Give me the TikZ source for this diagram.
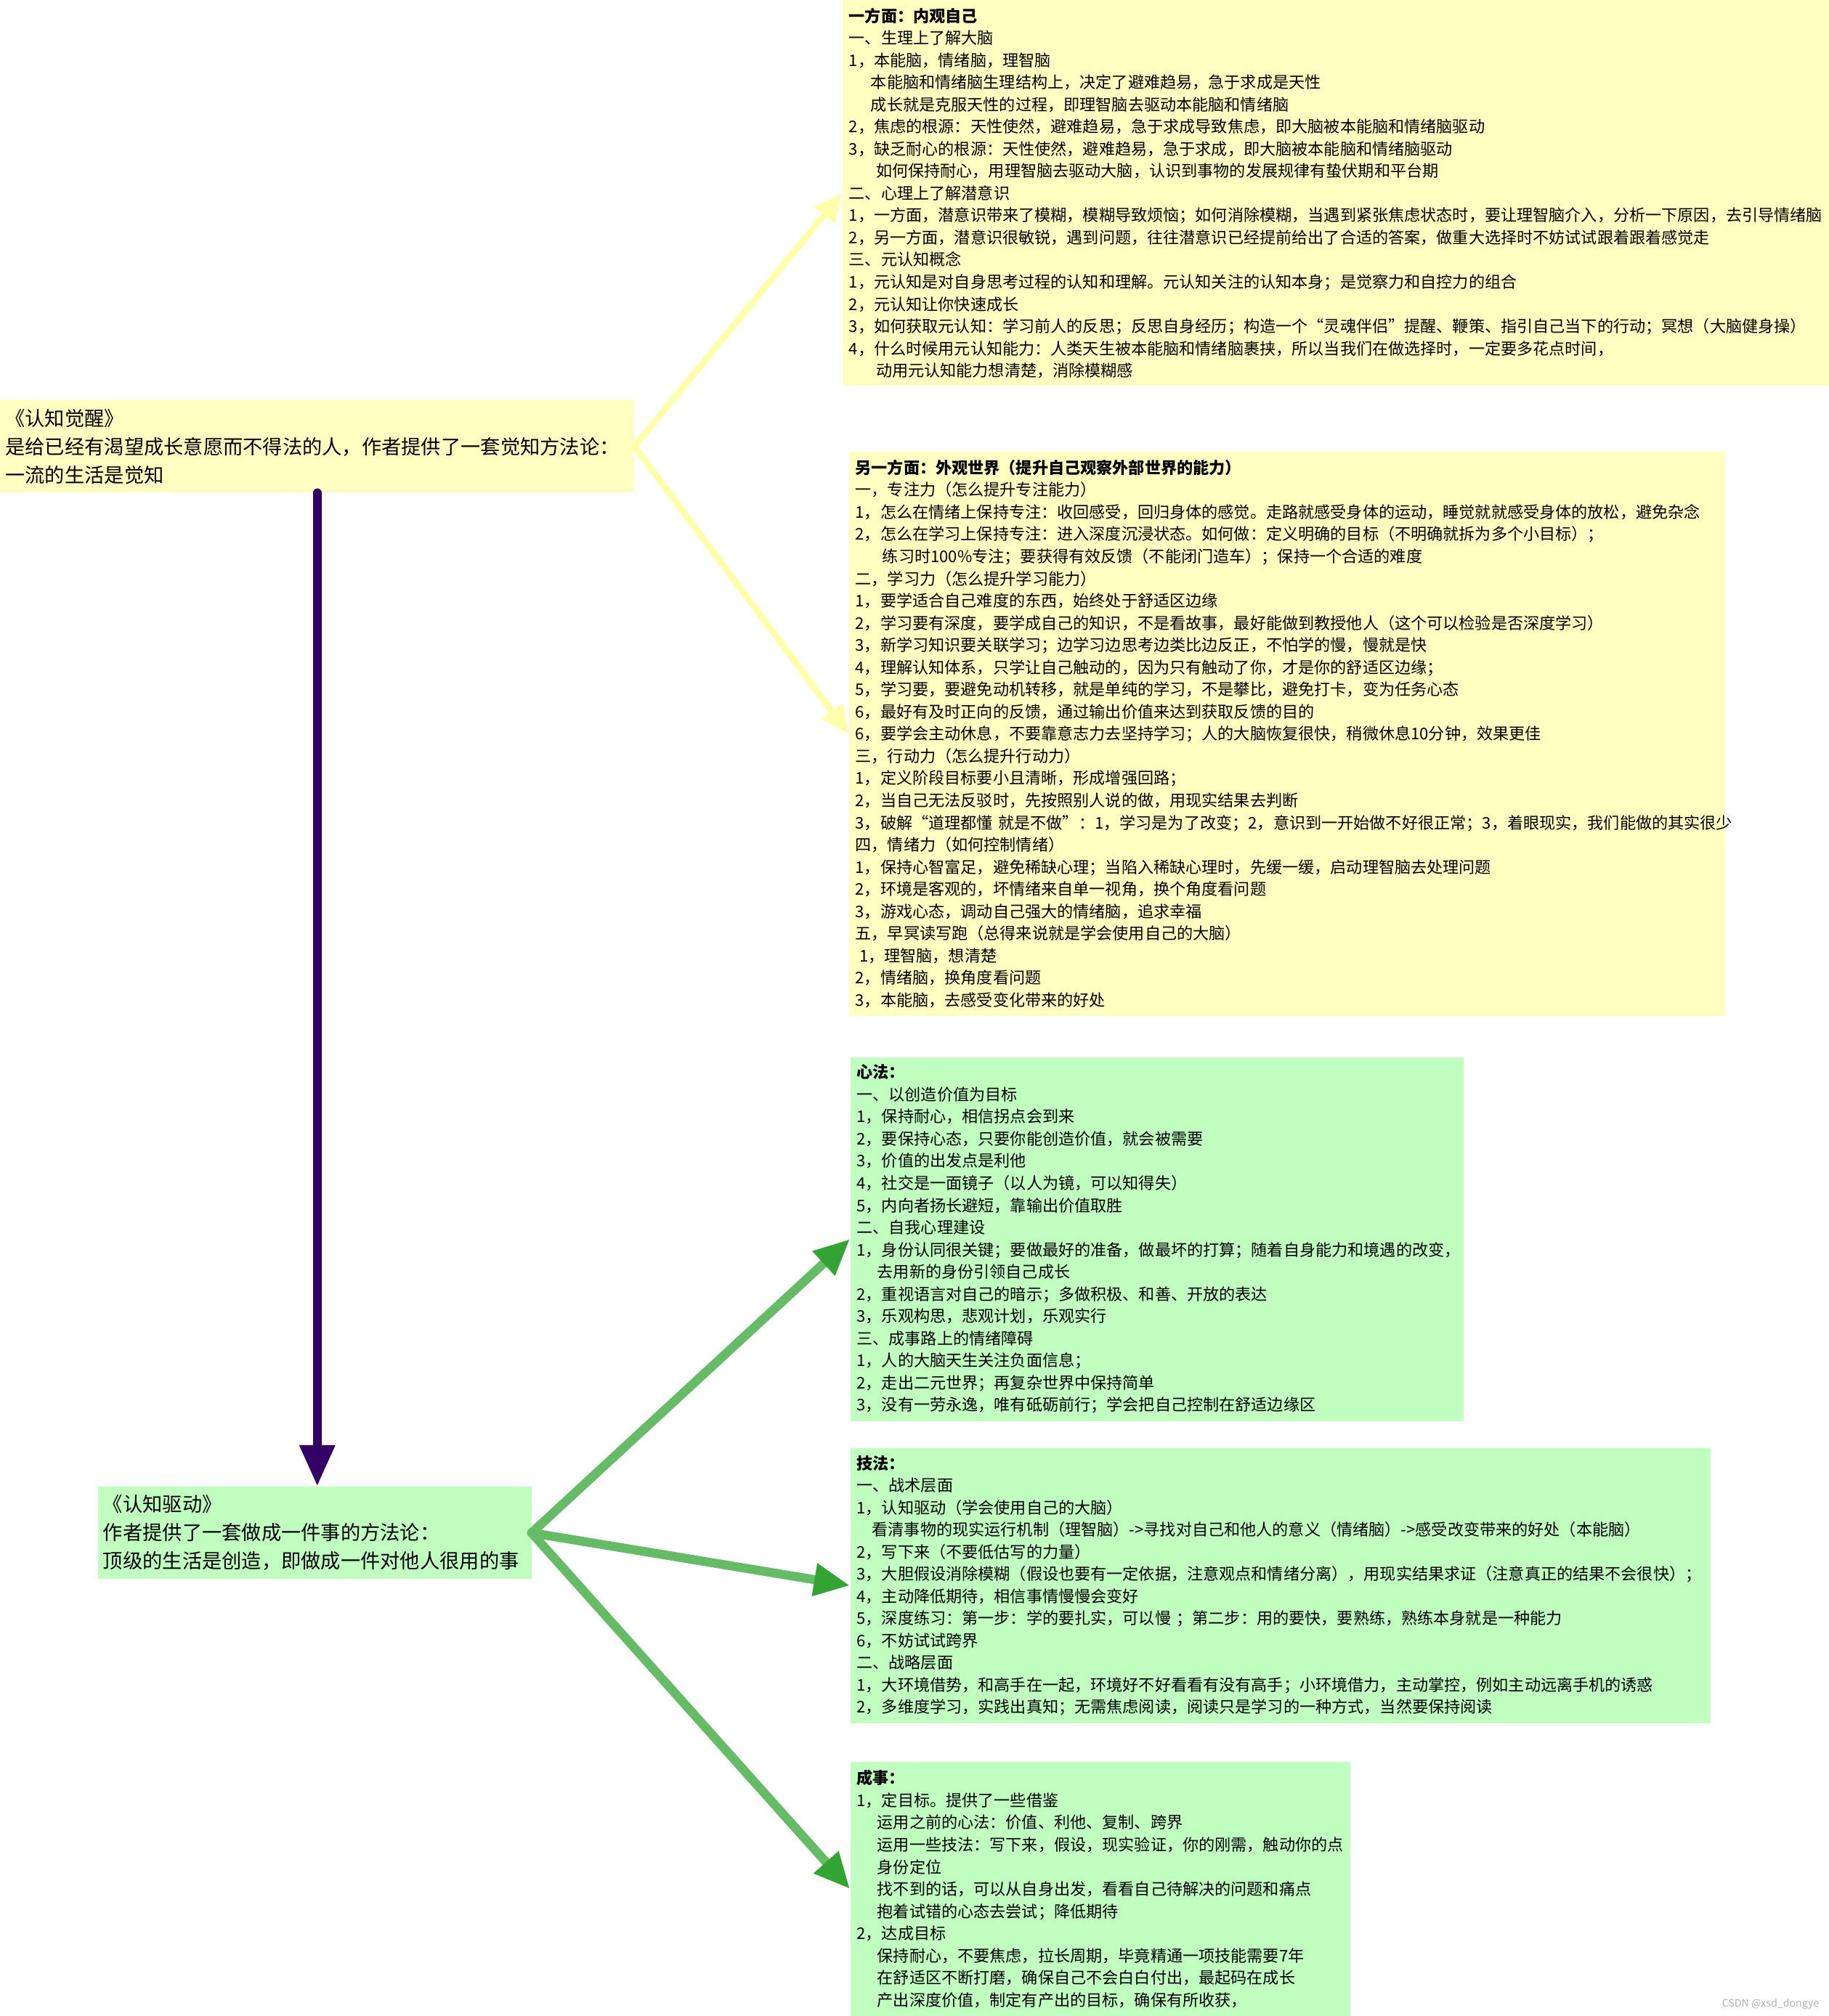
\documentclass[tikz,border=0pt]{standalone}
\usepackage{fontspec}
\setmainfont{Noto Sans CJK SC}
\usetikzlibrary{arrows.meta, positioning}
\definecolor{noteyellow}{HTML}{FFFFC2}
\definecolor{notegreen}{HTML}{C0FFC0}
\definecolor{linkyellow}{HTML}{FFFFAA}
\definecolor{linkgreen}{HTML}{66BB66}
\definecolor{headgreen}{HTML}{33A333}
\definecolor{linkpurple}{HTML}{330066}
\newcommand{\indt}[1][16pt]{\hspace*{#1}}

\begin{document}
\begin{tikzpicture}[x=1pt, y=-1pt,
  book/.style={rectangle, fill=noteyellow, anchor=north west, align=left, inner xsep=4pt, inner ysep=0pt, minimum height=72pt, font=\fontsize{15.4}{22}\selectfont},
  note/.style={rectangle, fill=noteyellow, anchor=north west, align=left, inner xsep=5pt, inner ysep=0pt, font=\fontsize{12.5}{17.25}\selectfont},
  greennote/.style={note, fill=notegreen},
  yarrow/.style={line width=5pt, draw=linkyellow, line cap=round, -{Triangle[length=22pt, width=19pt]}},
  garrow/.style={line width=7pt, draw=linkgreen, line cap=round, -{Triangle[length=28pt, width=24pt, color=headgreen]}},
  parrow/.style={line width=7pt, draw=linkpurple, line cap=round, -{Triangle[length=32pt, width=26pt]}}]

\path[use as bounding box, fill=white] (0,0) rectangle (1422,1568);

\node[book, text width=485pt] (awake) at (0,311) {《认知觉醒》\\ 是给已经有渴望成长意愿而不得法的人，作者提供了一套觉知方法论：\\ 一流的生活是觉知};
\node[book, fill=notegreen, text width=329pt] (drive) at (76,1156) {《认知驱动》\\ 作者提供了一套做成一件事的方法论：\\ 顶级的生活是创造，即做成一件对他人很用的事};

\node[note, text width=770pt, minimum height=300pt] (inner) at (655,0) {\textbf{一方面：内观自己}\\
一、生理上了解大脑\\
1，本能脑，情绪脑，理智脑\\
\indt[17pt]本能脑和情绪脑生理结构上，决定了避难趋易，急于求成是天性\\
\indt[17pt]成长就是克服天性的过程，即理智脑去驱动本能脑和情绪脑\\
2，焦虑的根源：天性使然，避难趋易，急于求成导致焦虑，即大脑被本能脑和情绪脑驱动\\
3，缺乏耐心的根源：天性使然，避难趋易，急于求成，即大脑被本能脑和情绪脑驱动\\
\indt[21pt]如何保持耐心，用理智脑去驱动大脑，认识到事物的发展规律有蛰伏期和平台期\\
二、心理上了解潜意识\\
1，一方面，潜意识带来了模糊，模糊导致烦恼；如何消除模糊，当遇到紧张焦虑状态时，要让理智脑介入，分析一下原因，去引导情绪脑\\
2，另一方面，潜意识很敏锐，遇到问题，往往潜意识已经提前给出了合适的答案，做重大选择时不妨试试跟着跟着感觉走\\
三、元认知概念\\
1，元认知是对自身思考过程的认知和理解。元认知关注的认知本身；是觉察力和自控力的组合\\
2，元认知让你快速成长\\
3，如何获取元认知：学习前人的反思；反思自身经历；构造一个“灵魂伴侣”提醒、鞭策、指引自己当下的行动；冥想（大脑健身操）\\
4，什么时候用元认知能力：人类天生被本能脑和情绪脑裹挟，所以当我们在做选择时，一定要多花点时间，\\
\indt[21pt]动用元认知能力想清楚，消除模糊感};

\node[note, text width=671pt, minimum height=439pt] (outer) at (660,351) {\textbf{另一方面：外观世界（提升自己观察外部世界的能力）}\\
一，专注力（怎么提升专注能力）\\
1，怎么在情绪上保持专注：收回感受，回归身体的感觉。走路就感受身体的运动，睡觉就就感受身体的放松，避免杂念\\
2，怎么在学习上保持专注：进入深度沉浸状态。如何做：定义明确的目标（不明确就拆为多个小目标）；\\
\indt[21pt]练习时100\%专注；要获得有效反馈（不能闭门造车）；保持一个合适的难度\\
二，学习力（怎么提升学习能力）\\
1，要学适合自己难度的东西，始终处于舒适区边缘\\
2，学习要有深度，要学成自己的知识，不是看故事，最好能做到教授他人（这个可以检验是否深度学习）\\
3，新学习知识要关联学习；边学习边思考边类比边反正，不怕学的慢，慢就是快\\
4，理解认知体系，只学让自己触动的，因为只有触动了你，才是你的舒适区边缘；\\
5，学习要，要避免动机转移，就是单纯的学习，不是攀比，避免打卡，变为任务心态\\
6，最好有及时正向的反馈，通过输出价值来达到获取反馈的目的\\
6，要学会主动休息，不要靠意志力去坚持学习；人的大脑恢复很快，稍微休息10分钟，效果更佳\\
三，行动力（怎么提升行动力）\\
1，定义阶段目标要小且清晰，形成增强回路；\\
2，当自己无法反驳时，先按照别人说的做，用现实结果去判断\\
3，破解“道理都懂 就是不做”：1，学习是为了改变；2，意识到一开始做不好很正常；3，着眼现实，我们能做的其实很少\\
四，情绪力（如何控制情绪）\\
1，保持心智富足，避免稀缺心理；当陷入稀缺心理时，先缓一缓，启动理智脑去处理问题\\
2，环境是客观的，坏情绪来自单一视角，换个角度看问题\\
3，游戏心态，调动自己强大的情绪脑，追求幸福\\
五，早冥读写跑（总得来说就是学会使用自己的大脑）\\
\indt[3pt]1，理智脑，想清楚\\
2，情绪脑，换角度看问题\\
3，本能脑，去感受变化带来的好处};

\node[greennote, text width=467pt, minimum height=283pt] (mind) at (661,822) {\textbf{心法：}\\
一、以创造价值为目标\\
1，保持耐心，相信拐点会到来\\
2，要保持心态，只要你能创造价值，就会被需要\\
3，价值的出发点是利他\\
4，社交是一面镜子（以人为镜，可以知得失）\\
5，内向者扬长避短，靠输出价值取胜\\
二、自我心理建设\\
1，身份认同很关键；要做最好的准备，做最坏的打算；随着自身能力和境遇的改变，\\
\indt 去用新的身份引领自己成长\\
2，重视语言对自己的暗示；多做积极、和善、开放的表达\\
3，乐观构思，悲观计划，乐观实行\\
三、成事路上的情绪障碍\\
1，人的大脑天生关注负面信息；\\
2，走出二元世界；再复杂世界中保持简单\\
3，没有一劳永逸，唯有砥砺前行；学会把自己控制在舒适边缘区};

\node[greennote, text width=659pt, minimum height=214pt] (skill) at (661,1126) {\textbf{技法：}\\
一、战术层面\\
1，认知驱动（学会使用自己的大脑）\\
\indt[12pt]看清事物的现实运行机制（理智脑）->寻找对自己和他人的意义（情绪脑）->感受改变带来的好处（本能脑）\\
2，写下来（不要低估写的力量）\\
3，大胆假设消除模糊（假设也要有一定依据，注意观点和情绪分离），用现实结果求证（注意真正的结果不会很快）；\\
4，主动降低期待，相信事情慢慢会变好\\
5，深度练习：第一步：学的要扎实，可以慢 ；第二步：用的要快，要熟练，熟练本身就是一种能力\\
6，不妨试试跨界\\
二、战略层面\\
1，大环境借势，和高手在一起，环境好不好看看有没有高手；小环境借力，主动掌控，例如主动远离手机的诱惑\\
2，多维度学习，实践出真知；无需焦虑阅读，阅读只是学习的一种方式，当然要保持阅读};

\node[greennote, text width=379pt, minimum height=198pt] (done) at (661,1370) {\textbf{成事：}\\
1，定目标。提供了一些借鉴\\
\indt 运用之前的心法：价值、利他、复制、跨界\\
\indt 运用一些技法：写下来，假设，现实验证，你的刚需，触动你的点\\
\indt 身份定位\\
\indt 找不到的话，可以从自身出发，看看自己待解决的问题和痛点\\
\indt 抱着试错的心态去尝试；降低期待\\
2，达成目标\\
\indt 保持耐心，不要焦虑，拉长周期，毕竟精通一项技能需要7年\\
\indt 在舒适区不断打磨，确保自己不会白白付出，最起码在成长\\
\indt 产出深度价值，制定有产出的目标，确保有所收获，};

\node[anchor=east, font=\fontsize{8}{9}\selectfont, text=gray!60] (mark) at (1418,1559) {CSDN @xsd\_dongye};

\draw[yarrow] (awake.east) -- (inner.west);
\draw[yarrow] (awake.east) -- (outer.west);
\draw[parrow] (awake.south) -- (awake.south |- drive.north);
\draw[garrow] (drive.east) -- (mind.west);
\draw[garrow] (drive.east) -- (skill.west);
\draw[garrow] (drive.east) -- (done.west);

\end{tikzpicture}
\end{document}
